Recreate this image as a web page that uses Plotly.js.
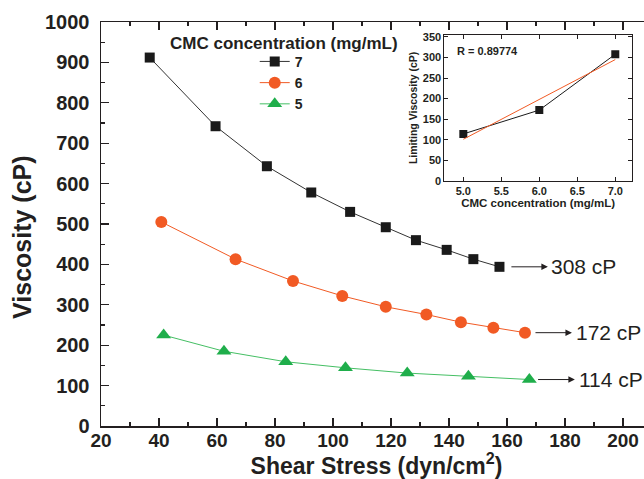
<!DOCTYPE html>
<html><head><meta charset="utf-8">
<script src="https://cdn.plot.ly/plotly-3.0.1.min.js"></script>
<style>html,body{margin:0;padding:0;overflow:hidden;background:#fff}#chart{width:660px;height:479px}</style>
</head><body><div id="chart"></div>
<script>
// Main chart data
const stress7 = [36.8, 59.5, 77.2, 92.5, 105.9, 118.2, 128.6, 139.2, 148.4, 157.4];
const visc7   = [912, 742, 643, 578, 530, 492, 460, 436, 413, 394];
const stress6 = [40.8, 66.4, 86.2, 103.2, 118.2, 132.2, 144.1, 155.3, 166.2];
const visc6   = [505, 413, 359, 322, 295, 276, 257, 243, 231];
const stress5 = [41.6, 62.4, 83.7, 104.3, 125.6, 146.7, 167.7];
const visc5   = [225, 185, 159, 144, 131, 123, 115];
const seriesNames = ['7', '6', '5'];
// Inset data
const concentration = [5, 6, 7];
const limitingVisc  = [114, 172, 308];
const fitConc = [5, 7];
const fitVisc = [101, 295];
const rText = 'R = 0.89774';

const FONT = 'Arial, "Liberation Sans", sans-serif';
const INK = '#231f20';
const ORANGE = '#f15a24';
const GREEN = '#1fae4b';
const GREENLINE = '#45bf64';

const traces = [
  {x: stress7, y: visc7, name: seriesNames[0], mode: 'lines+markers',
   line: {color: '#333333', width: 1}, marker: {symbol: 'square', size: 10, color: '#1a1a1a'}},
  {x: stress6, y: visc6, name: seriesNames[1], mode: 'lines+markers',
   line: {color: ORANGE, width: 1}, marker: {symbol: 'circle', size: 12, color: ORANGE}},
  {x: stress5, y: visc5, name: seriesNames[2], mode: 'lines+markers',
   line: {color: GREENLINE, width: 1}, marker: {symbol: 'triangle-up', size: 13, color: GREEN}},
  {x: concentration, y: limitingVisc, xaxis: 'x2', yaxis: 'y2', mode: 'lines+markers', showlegend: false,
   line: {color: '#1a1a1a', width: 1}, marker: {symbol: 'square', size: 8, color: '#1a1a1a'}},
  {x: fitConc, y: fitVisc, xaxis: 'x2', yaxis: 'y2', mode: 'lines', showlegend: false,
   line: {color: ORANGE, width: 1}}
];

const lastY7 = visc7[visc7.length - 1];
const lastY6 = visc6[visc6.length - 1];
const lastY5 = visc5[visc5.length - 1];

function arrow(x0, x1, y) {
  return {x: x1, y: y, ax: x0, ay: y, xref: 'x', yref: 'y', axref: 'x', ayref: 'y',
          text: '', showarrow: true, arrowhead: 2, arrowsize: 1.3, arrowwidth: 1, arrowcolor: INK};
}
function label(x, y, txt) {
  return {x: x, y: y, xref: 'x', yref: 'y', text: txt, showarrow: false, xanchor: 'left', yanchor: 'middle',
          font: {family: FONT, size: 21, color: INK}};
}

const annotations = [
  arrow(161, 174.1, lastY7), label(174.6, lastY7, limitingVisc[2] + ' cP'),
  arrow(169.3, 182.4, lastY6), label(183.2, lastY6, limitingVisc[1] + ' cP'),
  arrow(170.2, 183.4, lastY5), label(184.2, lastY5, limitingVisc[0] + ' cP'),
  {x: 0.1216, y: 0.948, xref: 'paper', yref: 'paper', xanchor: 'left', yanchor: 'middle', showarrow: false,
   text: 'CMC concentration (mg/mL)', font: {family: FONT, size: 17, weight: 'bold', color: INK}},
  {x: 4.89, y: 316, xref: 'x2', yref: 'y2', xanchor: 'left', yanchor: 'middle', showarrow: false,
   text: rText, font: {family: FONT, size: 11, weight: 'bold', color: INK}},
  {x: -0.1434, y: 0.468, xref: 'paper', yref: 'paper', xanchor: 'center', yanchor: 'middle', showarrow: false,
   textangle: -90, text: 'Viscosity (cP)', font: {family: FONT, size: 25, weight: 'bold', color: INK}}
];

const mainAxis = {
  showgrid: false, zeroline: false, showline: true, linecolor: INK, linewidth: 1.5, mirror: 'ticks',
  ticks: 'inside', ticklen: 8, tickwidth: 1.3, tickcolor: INK,
  tickfont: {family: FONT, size: 20, weight: 'bold', color: INK}
};
const insetAxis = {
  showgrid: false, zeroline: false, showline: true, linecolor: INK, linewidth: 1, mirror: 'ticks',
  ticks: 'inside', ticklen: 4, tickwidth: 1, tickcolor: INK,
  tickfont: {family: FONT, size: 11, weight: 'bold', color: INK}
};

const layout = {
  width: 660, height: 479,
  margin: {l: 101, r: 8, t: 22, b: 53},
  paper_bgcolor: '#fff', plot_bgcolor: '#fff',
  showlegend: true,
  legend: {x: 0.279, y: 0.941, xanchor: 'left', yanchor: 'top', bgcolor: 'rgba(0,0,0,0)',
           font: {family: FONT, size: 14, weight: 'bold', color: INK}, itemwidth: 30, tracegroupgap: 0},
  xaxis: Object.assign({}, mainAxis, {range: [20, 210], dtick: 20, tick0: 20,
    tickfont: {family: FONT, size: 19, weight: 'bold', color: INK},
    minor: {dtick: 10, ticklen: 4, tickwidth: 1.2, tickcolor: INK, ticks: 'inside'},
    ticklabelstandoff: -3,
    title: {text: 'Shear Stress (dyn/cm<sup>2</sup>)', standoff: 2, font: {family: FONT, size: 23, weight: 'bold', color: INK}}}),
  yaxis: Object.assign({}, mainAxis, {range: [0, 1000], dtick: 100,
    minor: {dtick: 50, ticklen: 4, tickwidth: 1.2, tickcolor: INK, ticks: 'inside'},
    ticklabelstandoff: 6}),
  xaxis2: Object.assign({}, insetAxis, {domain: [0.6231, 0.9637], anchor: 'y2', range: [4.75, 7.22],
    dtick: 0.5, tick0: 5, tickformat: '.1f',
    title: {text: 'CMC concentration (mg/mL)', standoff: 2, font: {family: FONT, size: 11.5, weight: 'bold', color: INK}}}),
  yaxis2: Object.assign({}, insetAxis, {domain: [0.607, 0.968], anchor: 'x2', range: [0, 355], dtick: 50,
    title: {text: 'Limiting Viscosity (cP)', standoff: 3, font: {family: FONT, size: 10.5, weight: 'bold', color: INK}}}),
  annotations: annotations
};

Plotly.newPlot('chart', traces, layout, {displayModeBar: false, staticPlot: true});
</script>
</body></html>
